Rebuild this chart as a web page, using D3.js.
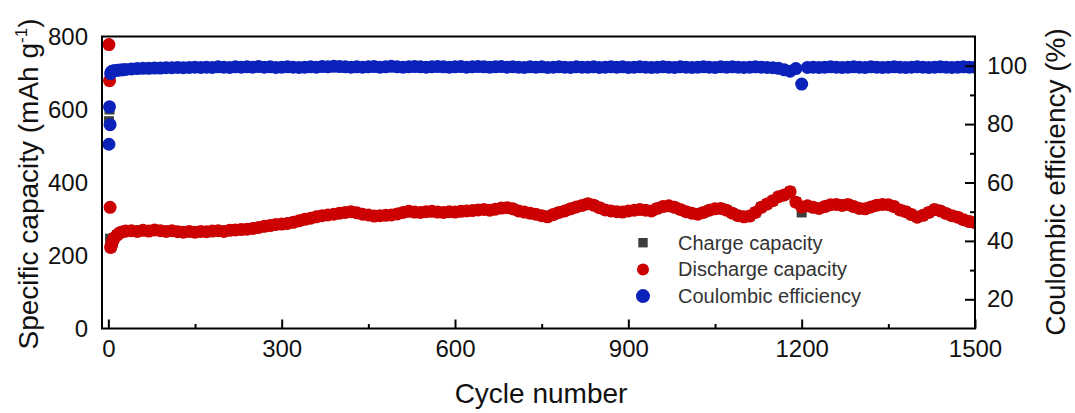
<!DOCTYPE html>
<html lang="en">
<head>
<meta charset="utf-8">
<title>Cycling performance</title>
<script src="https://cdn.jsdelivr.net/npm/d3@7"></script>
<style>
  body { margin: 0; background: #fff; }
  svg { font-family: "Liberation Sans", Arial, sans-serif; }
</style>
</head>
<body>
<svg class="chart" width="1075" height="413"></svg>
<script>
  var cycles = [1, 2, 3, 4, 5, 6, 8, 10, 15, 20, 25, 30,
    40, 50, 60, 70, 80, 90, 100, 110, 120, 130,
    140, 150, 160, 170, 180, 190, 200, 210, 220, 230,
    240, 250, 260, 270, 280, 290, 300, 310, 320, 330,
    340, 350, 360, 370, 380, 390, 400, 410, 420, 430,
    440, 450, 460, 470, 480, 490, 500, 510, 520, 530,
    540, 550, 560, 570, 580, 590, 600, 610, 620, 630,
    640, 650, 660, 670, 680, 690, 700, 710, 720, 730,
    740, 750, 760, 770, 780, 790, 800, 810, 820, 830,
    840, 850, 860, 870, 880, 890, 900, 910, 920, 930,
    940, 950, 960, 970, 980, 990, 1000, 1010, 1020, 1030,
    1040, 1050, 1060, 1070, 1080, 1090, 1100, 1110, 1120, 1130,
    1140, 1150, 1160, 1170, 1180, 1190, 1200, 1210, 1220, 1230,
    1240, 1250, 1260, 1270, 1280, 1290, 1300, 1310, 1320, 1330,
    1340, 1350, 1360, 1370, 1380, 1390, 1400, 1410, 1420, 1430,
    1440, 1450, 1460, 1470, 1480, 1490, 1500];

  // charge sits under the discharge points nearly everywhere
  var charge = [568, 600, 246, 222, 226, 232, 241, 248, 256, 262, 265, 267,
    268, 266, 269, 267, 270, 268, 266, 268, 265, 264,
    266, 264, 266, 265, 267, 268, 266, 269, 270, 271,
    272, 274, 277, 280, 282, 285, 286, 288, 291, 295,
    299, 302, 306, 309, 311, 313, 316, 318, 320, 317,
    313, 311, 308, 309, 310, 311, 314, 318, 321, 319,
    318, 320, 321, 319, 318, 320, 319, 321, 322, 323,
    325, 326, 324, 327, 330, 331, 328, 322, 319, 316,
    313, 309, 306, 312, 318, 322, 328, 333, 337, 342,
    338, 331, 325, 322, 320, 319, 322, 324, 326, 324,
    322, 329, 334, 336, 332, 326, 320, 316, 313, 318,
    324, 328, 329, 324, 316, 309, 306, 308, 318, 332,
    341, 350, 361, 366, 375, 346, 318, 336, 332, 329,
    334, 339, 340, 337, 340, 334, 329, 328, 333, 338,
    340, 339, 334, 325, 320, 312, 305, 310, 318, 326,
    322, 315, 309, 305, 298, 293, 290];

  var discharge = [778, 679, 332, 222, 226, 232, 241, 248, 256, 262, 265, 267,
    268, 266, 269, 267, 270, 268, 266, 268, 265, 264,
    266, 264, 266, 265, 267, 268, 266, 269, 270, 271,
    272, 274, 277, 280, 282, 285, 286, 288, 291, 295,
    299, 302, 306, 309, 311, 313, 316, 318, 320, 317,
    313, 311, 308, 309, 310, 311, 314, 318, 321, 319,
    318, 320, 321, 319, 318, 320, 319, 321, 322, 323,
    325, 326, 324, 327, 330, 331, 328, 322, 319, 316,
    313, 309, 306, 312, 318, 322, 328, 333, 337, 342,
    338, 331, 325, 322, 320, 319, 322, 324, 326, 324,
    322, 329, 334, 336, 332, 326, 320, 316, 313, 318,
    324, 328, 329, 324, 316, 309, 306, 308, 318, 332,
    341, 350, 361, 366, 375, 346, 333, 336, 332, 329,
    334, 339, 340, 337, 340, 334, 329, 328, 333, 338,
    340, 339, 334, 325, 320, 312, 305, 310, 318, 326,
    322, 315, 309, 305, 298, 293, 290];

  var efficiency = [73.1, 85.9, 79.8, 97.3, 97.8, 98.0, 98.2, 98.3, 98.4, 98.5, 98.6, 98.7,
    98.9, 99.0, 99.1, 99.1, 99.2, 99.2, 99.3, 99.3, 99.4, 99.3,
    99.4, 99.5, 99.4, 99.5, 99.4, 99.6, 99.5, 99.4, 99.6, 99.5,
    99.6, 99.5, 99.7, 99.5, 99.6, 99.4, 99.5, 99.6, 99.5, 99.4,
    99.5, 99.6, 99.5, 99.7, 99.6, 99.8, 99.7, 99.6, 99.5, 99.6,
    99.5, 99.6, 99.7, 99.5, 99.6, 99.8, 99.6, 99.5, 99.6, 99.7,
    99.6, 99.5, 99.6, 99.7, 99.6, 99.5, 99.6, 99.7, 99.5, 99.6,
    99.7, 99.6, 99.5, 99.6, 99.7, 99.5, 99.6, 99.5, 99.4, 99.6,
    99.5, 99.6, 99.4, 99.5, 99.6, 99.5, 99.4, 99.6, 99.5, 99.5,
    99.6, 99.4, 99.5, 99.6, 99.5, 99.6, 99.4, 99.5, 99.6, 99.5,
    99.4, 99.5, 99.6, 99.5, 99.4, 99.6, 99.5, 99.4, 99.5, 99.6,
    99.5, 99.4, 99.6, 99.5, 99.6, 99.5, 99.4, 99.5, 99.6, 99.5,
    99.4, 99.3, 99.1, 98.6, 98.1, 99.0, 93.7, 99.4, 99.5, 99.4,
    99.5, 99.6, 99.5, 99.4, 99.5, 99.6, 99.5, 99.4, 99.6, 99.5,
    99.4, 99.5, 99.6, 99.5, 99.4, 99.5, 99.6, 99.5, 99.4, 99.5,
    99.6, 99.5, 99.4, 99.5, 99.6, 99.5, 99.5];

  var xTicks = [0, 300, 600, 900, 1200, 1500];
  var xMinorTicks = [150, 450, 750, 1050, 1350];
  var yLeftTicks = [0, 200, 400, 600, 800];
  var yRightTicks = [20, 40, 60, 80, 100];
  var yRightMinorTicks = [30, 50, 70, 90];
  var seriesNames = ["Charge capacity", "Discharge capacity", "Coulombic efficiency"];

  //2. Layout (plot box edges)
  var boxL = 102, boxR = 975, boxT = 36.5, boxB = 328.5;
  var red = "#cc0000", blue = "#0a22ba", gray = "#3d3d3d";

  //3. Scales
  var x = d3.scaleLinear().domain([-11, 1500]).range([boxL, boxR]);
  var yL = d3.scaleLinear().domain([0, 800]).range([boxB, boxT]);
  var yR = d3.scaleLinear().domain([10, 110]).range([boxB, boxT]);

  var svg = d3.select(".chart");

  svg.append("defs").append("clipPath").attr("id", "plot")
    .append("rect")
    .attr("x", boxL).attr("y", boxT)
    .attr("width", boxR - boxL).attr("height", boxB - boxT);

  var pts = cycles.map(function(c, i) {
    return { c: c, ch: charge[i], dis: discharge[i], ce: efficiency[i] };
  });

  //4. Points: charge, then discharge, then efficiency on top
  var plot = svg.append("g").attr("clip-path", "url(#plot)");

  plot.append("g").selectAll("rect")
    .data(pts).enter().append("rect")
    .attr("x", d => x(d.c) - 5)
    .attr("y", d => yL(d.ch) - 5)
    .attr("width", 10).attr("height", 10)
    .style("fill", gray);

  plot.append("g").selectAll("circle")
    .data(pts).enter().append("circle")
    .attr("cx", d => x(d.c))
    .attr("cy", d => yL(d.dis))
    .attr("r", 6.5)
    .style("fill", red);

  plot.append("g").selectAll("circle")
    .data(pts).enter().append("circle")
    .attr("cx", d => x(d.c))
    .attr("cy", d => yR(d.ce))
    .attr("r", 6.5)
    .style("fill", blue);

  //5. Axes
  svg.append("g")
    .attr("transform", "translate(0," + boxB + ")")
    .call(d3.axisBottom(x).tickValues(xTicks).tickFormat(d3.format("d"))
      .tickSizeInner(-9).tickSizeOuter(0).tickPadding(11.5));
  svg.append("g")
    .attr("transform", "translate(0," + boxB + ")")
    .call(d3.axisBottom(x).tickValues(xMinorTicks).tickSizeInner(-4.5).tickSizeOuter(0).tickFormat(""));

  svg.append("g")
    .attr("transform", "translate(" + boxL + ",0)")
    .call(d3.axisLeft(yL).tickValues(yLeftTicks).tickSize(0).tickPadding(14));

  svg.append("g")
    .attr("transform", "translate(" + boxR + ",0)")
    .call(d3.axisRight(yR).tickValues(yRightTicks).tickSizeInner(-10).tickSizeOuter(0).tickPadding(12));
  svg.append("g")
    .attr("transform", "translate(" + boxR + ",0)")
    .call(d3.axisRight(yR).tickValues(yRightMinorTicks).tickSizeInner(-5).tickSizeOuter(0).tickFormat(""));

  svg.selectAll(".domain").remove();
  svg.selectAll(".tick line").style("stroke", "#000").style("stroke-width", 2);
  svg.selectAll(".tick text")
    .style("font-family", "Liberation Sans, Arial, sans-serif")
    .style("font-size", "24px")
    .style("fill", "#111");

  // frame
  svg.append("rect")
    .attr("x", boxL).attr("y", boxT)
    .attr("width", boxR - boxL).attr("height", boxB - boxT)
    .style("fill", "none")
    .style("stroke", "#000")
    .style("stroke-width", 2);

  //6. Titles
  var yTitle = svg.append("text")
    .attr("transform", "translate(37.5,184) rotate(-90)")
    .style("text-anchor", "middle")
    .style("font-size", "28px")
    .style("fill", "#111");
  yTitle.append("tspan").text("Specific capacity (mAh g");
  yTitle.append("tspan").attr("dy", -11).style("font-size", "17px").text("-1");
  yTitle.append("tspan").attr("dy", 11).text(")");

  svg.append("text")
    .attr("transform", "translate(1065,182) rotate(-90)")
    .style("text-anchor", "middle")
    .style("font-size", "28px")
    .style("fill", "#111")
    .text("Coulombic efficiency (%)");

  svg.append("text")
    .attr("x", 541).attr("y", 403)
    .style("text-anchor", "middle")
    .style("font-size", "28px")
    .style("fill", "#111")
    .text("Cycle number");

  //7. Legend
  var legend = svg.append("g").selectAll("g")
    .data(seriesNames).enter().append("g")
    .attr("transform", (d, i) => "translate(643," + (242.7 + i * 26.7) + ")");

  legend.filter((d, i) => i === 0).append("rect")
    .attr("x", -4.7).attr("y", -4.7).attr("width", 9.4).attr("height", 9.4)
    .style("fill", gray);
  legend.filter((d, i) => i === 1).append("circle")
    .attr("r", 6).style("fill", red);
  legend.filter((d, i) => i === 2).append("circle")
    .attr("r", 7).style("fill", blue);

  legend.append("text")
    .attr("x", 35).attr("y", 7)
    .style("font-size", "20px")
    .style("fill", "#333")
    .text(d => d);
</script>
</body>
</html>
